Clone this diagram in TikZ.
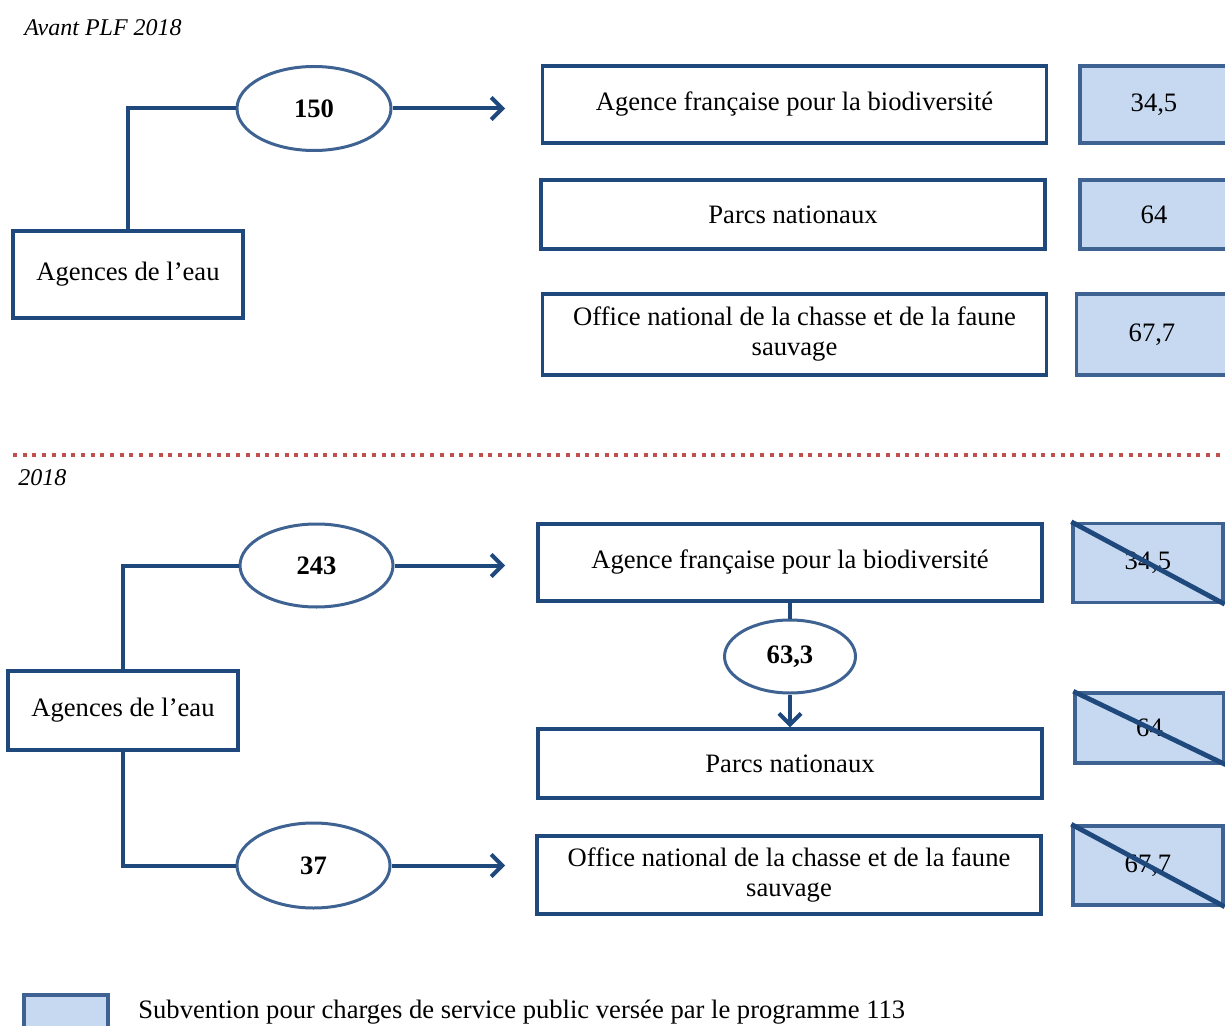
\documentclass[tikz,border=0pt]{standalone}
\usepackage{fontspec}
\setmainfont{Liberation Serif}
\usepackage{tikz}
\usetikzlibrary{shapes.geometric}
\usetikzlibrary{arrows.meta}
\usetikzlibrary{positioning}
\definecolor{boxblue}{RGB}{31,73,125}
\definecolor{ellblue}{RGB}{62,98,145}
\definecolor{paleblue}{RGB}{198,217,241}
\definecolor{dotred}{RGB}{192,80,77}
\newcommand\bodyfont{\fontsize{13.3}{15}\selectfont}
\tikzstyle{orgbox} = [draw=boxblue, line width=1.7pt, fill=white, align=center, inner sep=0pt, minimum width=252pt]
\tikzstyle{amount} = [ellipse, draw=ellblue, line width=1.5pt, fill=white, inner sep=0pt, font=\bodyfont\bfseries, minimum width=77pt, minimum height=42pt]
\tikzstyle{valbox} = [draw=ellblue, line width=1.7pt, fill=paleblue, inner sep=0pt, minimum width=74pt]

\begin{document}
\begin{tikzpicture}[x=0.5pt, y=-0.5pt,
                    font=\bodyfont,
                    flow/.style={draw=boxblue, line width=2pt},
                    flowarrow/.style={flow, -{Straight Barb[length=5.5pt,width=11pt,line width=2pt]}},
                    cross/.style={draw=boxblue, line width=2.4pt},
                    period/.style={font=\fontsize{12}{15}\selectfont\itshape, anchor=west, inner sep=0pt}]
  \clip (0,0) rectangle (1225,1026);

  % Avant PLF 2018
  \node[period] (avant) at (24,28) {Avant PLF 2018};

  \node[orgbox, minimum width=115pt, minimum height=43.5pt] (eau1) at (128,274.5) {Agences de l'eau};
  \node[amount] (m150) at (314,108.5) {150};
  \coordinate (tip1) at (505,108.5);

  \node[orgbox, minimum height=38.5pt] (afb1) at (794.5,104.5) {Agence française pour la biodiversité};
  \node[orgbox, minimum height=34.5pt] (pn1) at (793,214.5) {Parcs nationaux};
  \node[orgbox, minimum height=40.5pt] (onc1) at (794.5,334.5) {Office national de la chasse et de la faune\\sauvage};

  \node[valbox, minimum height=38.5pt] (v1) at (1154,104.5) {34,5};
  \node[valbox, minimum height=34.5pt] (v2) at (1154,214.5) {64};
  \node[valbox, minimum width=75.5pt, minimum height=40.5pt] (v3) at (1152,334.5) {67,7};

  \draw[flow] (eau1.north) |- (m150.west);
  \draw[flowarrow] (m150.east) -- (tip1);

  % separation
  \draw[dotred, line width=2pt, dash pattern=on 2pt off 2.85pt] (13,455) -- (1240,455);

  % 2018
  \node[period] (apres) at (18,478) {2018};

  \node[orgbox, minimum width=115pt, minimum height=39.5pt] (eau2) at (123,710.5) {Agences de l'eau};
  \node[amount, minimum width=76.5pt, minimum height=41.5pt] (m243) at (316.5,565.5) {243};
  \node[amount, minimum width=76.5pt, minimum height=42.5pt] (m37) at (313.5,865.5) {37};
  \coordinate (tip2) at (505,565.5);
  \coordinate (tip3) at (505,865.5);

  \node[orgbox, minimum height=38.5pt] (afb2) at (790,562.5) {Agence française pour la biodiversité};
  \node[amount, minimum width=65.5pt, minimum height=36.5pt] (m633) at (790,656.5) {63,3};
  \node[orgbox, minimum height=34.5pt] (pn2) at (790,763.5) {Parcs nationaux};
  \node[orgbox, minimum height=39pt] (onc2) at (789,875) {Office national de la chasse et de la faune\\sauvage};

  \node[valbox, minimum width=75pt, minimum height=39.5pt] (x1) at (1148,563) {34,5};
  \node[valbox, minimum width=74.5pt, minimum height=35pt] (x2) at (1149.5,728) {64};
  \node[valbox, minimum width=75pt, minimum height=39.5pt] (x3) at (1148,865.5) {67,7};
  \draw[cross] (x1.north west) -- (x1.south east);
  \draw[cross] (x2.north west) -- (x2.south east);
  \draw[cross] (x3.north west) -- (x3.south east);

  \draw[flow] (eau2.north) |- (m243.west);
  \draw[flow] (eau2.south) |- (m37.west);
  \draw[flowarrow] (m243.east) -- (tip2);
  \draw[flowarrow] (m37.east) -- (tip3);
  \draw[flow] (afb2.south) -- (m633.north);
  \draw[flowarrow] (m633.south) -- (pn2.north);

  % legende
  \node[valbox, minimum width=42pt, minimum height=22.5pt] (leg) at (66,1017.5) {};
  \node[anchor=west, inner sep=0pt] (legtext) at (138,1012) {Subvention pour charges de service public versée par le programme 113};
\end{tikzpicture}
\end{document}
